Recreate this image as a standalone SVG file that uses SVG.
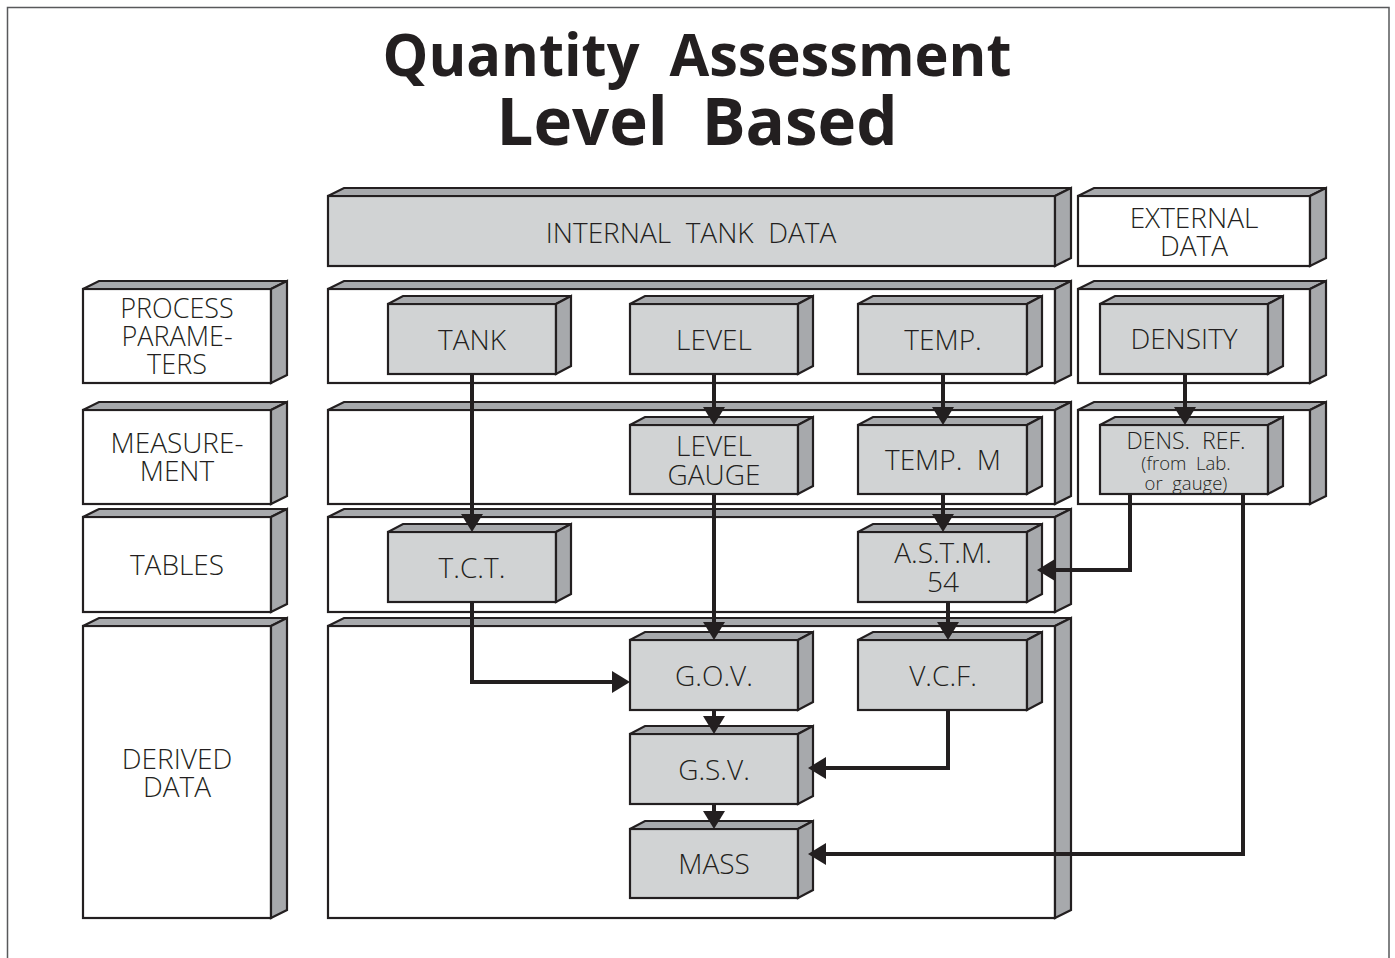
<svg xmlns="http://www.w3.org/2000/svg" width="1395" height="958" viewBox="0 0 1395 958">
<style>
text { font-family: "Open Sans", "Noto Sans", "Liberation Sans", sans-serif; fill: #231f20; white-space: pre; text-anchor: middle; }
.t { font-weight: 300; font-size: 28px; }
.s27 { font-size: 27px; }
.s23 { font-size: 23px; }
.s18 { font-size: 18.5px; }
.title { font-weight: 700; }
.front { stroke: #231f20; stroke-width: 2.2; stroke-linejoin: miter; }
.w { fill: #ffffff; }
.g { fill: #d1d3d4; }
.face { fill: #a7a9ac; stroke: #231f20; stroke-width: 2.2; stroke-linejoin: miter; }
.conn { fill: none; stroke: #231f20; stroke-width: 4; marker-end: url(#ah); }
</style>
<defs>
<marker id="ah" markerUnits="userSpaceOnUse" markerWidth="18" markerHeight="22" refX="13" refY="11" orient="auto" overflow="visible">
<path d="M0,0 L18,11 L0,22 Z" fill="#231f20"/>
</marker>
</defs>
<rect x="0" y="0" width="1395" height="958" fill="#ffffff"/>
<path d="M7.5,970 V7.5 H1389 V970" fill="none" stroke="#58595b" stroke-width="1.5"/>

<g id="title">
<text class="title" x="697" y="76" font-size="59" textLength="629" lengthAdjust="spacingAndGlyphs">Quantity  Assessment</text>
<text class="title" x="697" y="145" font-size="67" textLength="401" lengthAdjust="spacingAndGlyphs">Level  Based</text>
</g>

<!-- left column -->
<g id="process-parameters">
<rect class="front w" x="83" y="289" width="188" height="94"/>
<polygon class="face" points="83,289 99,281 287,281 271,289"/>
<polygon class="face" points="271,289 287,281 287,375 271,383"/>
<text class="t s27" x="177" y="318">PROCESS</text>
<text class="t s27" x="177" y="346">PARAME-</text>
<text class="t s27" x="177" y="374">TERS</text>
</g>
<g id="measurement">
<rect class="front w" x="83" y="410" width="188" height="94"/>
<polygon class="face" points="83,410 99,402 287,402 271,410"/>
<polygon class="face" points="271,410 287,402 287,496 271,504"/>
<text class="t" x="177" y="453">MEASURE-</text>
<text class="t" x="177" y="481">MENT</text>
</g>
<g id="tables">
<rect class="front w" x="83" y="517" width="188" height="95"/>
<polygon class="face" points="83,517 99,509 287,509 271,517"/>
<polygon class="face" points="271,517 287,509 287,604 271,612"/>
<text class="t" x="177" y="575">TABLES</text>
</g>
<g id="derived-data">
<rect class="front w" x="83" y="626" width="188" height="292"/>
<polygon class="face" points="83,626 99,618 287,618 271,626"/>
<polygon class="face" points="271,626 287,618 287,910 271,918"/>
<text class="t" x="177" y="769">DERIVED</text>
<text class="t" x="177" y="797">DATA</text>
</g>

<!-- headers -->
<g id="internal-tank-data">
<rect class="front g" x="328" y="196" width="727" height="70"/>
<polygon class="face" points="328,196 344,188 1071,188 1055,196"/>
<polygon class="face" points="1055,196 1071,188 1071,258 1055,266"/>
<text class="t" x="691" y="243">INTERNAL  TANK  DATA</text>
</g>
<g id="external-data">
<rect class="front w" x="1078" y="196" width="232" height="70"/>
<polygon class="face" points="1078,196 1094,188 1326,188 1310,196"/>
<polygon class="face" points="1310,196 1326,188 1326,258 1310,266"/>
<text class="t" x="1194" y="228">EXTERNAL</text>
<text class="t" x="1194" y="256">DATA</text>
</g>

<!-- row containers -->
<g id="row-process">
<rect class="front w" x="328" y="289" width="727" height="94"/>
<polygon class="face" points="328,289 344,281 1071,281 1055,289"/>
<polygon class="face" points="1055,289 1071,281 1071,375 1055,383"/>
</g>
<g id="row-measurement">
<rect class="front w" x="328" y="410" width="727" height="94"/>
<polygon class="face" points="328,410 344,402 1071,402 1055,410"/>
<polygon class="face" points="1055,410 1071,402 1071,496 1055,504"/>
</g>
<g id="row-tables">
<rect class="front w" x="328" y="517" width="727" height="95"/>
<polygon class="face" points="328,517 344,509 1071,509 1055,517"/>
<polygon class="face" points="1055,517 1071,509 1071,604 1055,612"/>
</g>
<g id="row-derived">
<rect class="front w" x="328" y="626" width="727" height="292"/>
<polygon class="face" points="328,626 344,618 1071,618 1055,626"/>
<polygon class="face" points="1055,626 1071,618 1071,910 1055,918"/>
</g>
<g id="ext-row-process">
<rect class="front w" x="1078" y="289" width="232" height="94"/>
<polygon class="face" points="1078,289 1094,281 1326,281 1310,289"/>
<polygon class="face" points="1310,289 1326,281 1326,375 1310,383"/>
</g>
<g id="ext-row-measurement">
<rect class="front w" x="1078" y="410" width="232" height="94"/>
<polygon class="face" points="1078,410 1094,402 1326,402 1310,410"/>
<polygon class="face" points="1310,410 1326,402 1326,496 1310,504"/>
</g>

<!-- inner boxes -->
<g id="tank">
<rect class="front g" x="388" y="304" width="168" height="70"/>
<polygon class="face" points="388,304 403,296 571,296 556,304"/>
<polygon class="face" points="556,304 571,296 571,366 556,374"/>
<text class="t" x="472" y="350">TANK</text>
</g>
<g id="level">
<rect class="front g" x="630" y="304" width="168" height="70"/>
<polygon class="face" points="630,304 645,296 813,296 798,304"/>
<polygon class="face" points="798,304 813,296 813,366 798,374"/>
<text class="t" x="714" y="350">LEVEL</text>
</g>
<g id="temp">
<rect class="front g" x="858" y="304" width="169" height="70"/>
<polygon class="face" points="858,304 873,296 1042,296 1027,304"/>
<polygon class="face" points="1027,304 1042,296 1042,366 1027,374"/>
<text class="t" x="943" y="350">TEMP.</text>
</g>
<g id="density">
<rect class="front g" x="1100" y="304" width="168" height="70"/>
<polygon class="face" points="1100,304 1115,296 1283,296 1268,304"/>
<polygon class="face" points="1268,304 1283,296 1283,366 1268,374"/>
<text class="t" x="1184" y="349">DENSITY</text>
</g>
<g id="level-gauge">
<rect class="front g" x="630" y="425" width="168" height="69"/>
<polygon class="face" points="630,425 645,417 813,417 798,425"/>
<polygon class="face" points="798,425 813,417 813,486 798,494"/>
<text class="t" x="714" y="456">LEVEL</text>
<text class="t" x="714" y="485">GAUGE</text>
</g>
<g id="temp-m">
<rect class="front g" x="858" y="425" width="169" height="69"/>
<polygon class="face" points="858,425 873,417 1042,417 1027,425"/>
<polygon class="face" points="1027,425 1042,417 1042,486 1027,494"/>
<text class="t" x="943" y="470">TEMP.  M</text>
</g>
<g id="dens-ref">
<rect class="front g" x="1100" y="425" width="168" height="69"/>
<polygon class="face" points="1100,425 1115,417 1283,417 1268,425"/>
<polygon class="face" points="1268,425 1283,417 1283,486 1268,494"/>
<text class="t s23" x="1186" y="449">DENS.  REF.</text>
<text class="t s18" x="1186" y="470">(from  Lab.</text>
<text class="t s18" x="1186" y="490">or  gauge)</text>
</g>
<g id="tct">
<rect class="front g" x="388" y="532" width="168" height="70"/>
<polygon class="face" points="388,532 403,524 571,524 556,532"/>
<polygon class="face" points="556,532 571,524 571,594 556,602"/>
<text class="t" x="472" y="578">T.C.T.</text>
</g>
<g id="astm">
<rect class="front g" x="858" y="532" width="169" height="70"/>
<polygon class="face" points="858,532 873,524 1042,524 1027,532"/>
<polygon class="face" points="1027,532 1042,524 1042,594 1027,602"/>
<text class="t" x="943" y="563">A.S.T.M.</text>
<text class="t" x="943" y="592">54</text>
</g>
<g id="gov">
<rect class="front g" x="630" y="640" width="168" height="70"/>
<polygon class="face" points="630,640 645,632 813,632 798,640"/>
<polygon class="face" points="798,640 813,632 813,702 798,710"/>
<text class="t" x="714" y="686">G.O.V.</text>
</g>
<g id="vcf">
<rect class="front g" x="858" y="640" width="169" height="70"/>
<polygon class="face" points="858,640 873,632 1042,632 1027,640"/>
<polygon class="face" points="1027,640 1042,632 1042,702 1027,710"/>
<text class="t" x="943" y="686">V.C.F.</text>
</g>
<g id="gsv">
<rect class="front g" x="630" y="734" width="168" height="70"/>
<polygon class="face" points="630,734 645,726 813,726 798,734"/>
<polygon class="face" points="798,734 813,726 813,796 798,804"/>
<text class="t" x="714" y="780">G.S.V.</text>
</g>
<g id="mass">
<rect class="front g" x="630" y="829" width="168" height="69"/>
<polygon class="face" points="630,829 645,821 813,821 798,829"/>
<polygon class="face" points="798,829 813,821 813,890 798,898"/>
<text class="t" x="714" y="874">MASS</text>
</g>

<g id="connectors">
<path class="conn" d="M472,374 V527"/>
<path class="conn" d="M472,602 V682 H625"/>
<path class="conn" d="M714,374 V420"/>
<path class="conn" d="M714,494 V635"/>
<path class="conn" d="M714,710 V729"/>
<path class="conn" d="M714,804 V824"/>
<path class="conn" d="M943,374 V420"/>
<path class="conn" d="M943,494 V527"/>
<path class="conn" d="M948,602 V635"/>
<path class="conn" d="M948,710 V768 H813"/>
<path class="conn" d="M1185,374 V420"/>
<path class="conn" d="M1130,494 V570 H1042"/>
<path class="conn" d="M1243,494 V854 H813"/>
</g>
</svg>
